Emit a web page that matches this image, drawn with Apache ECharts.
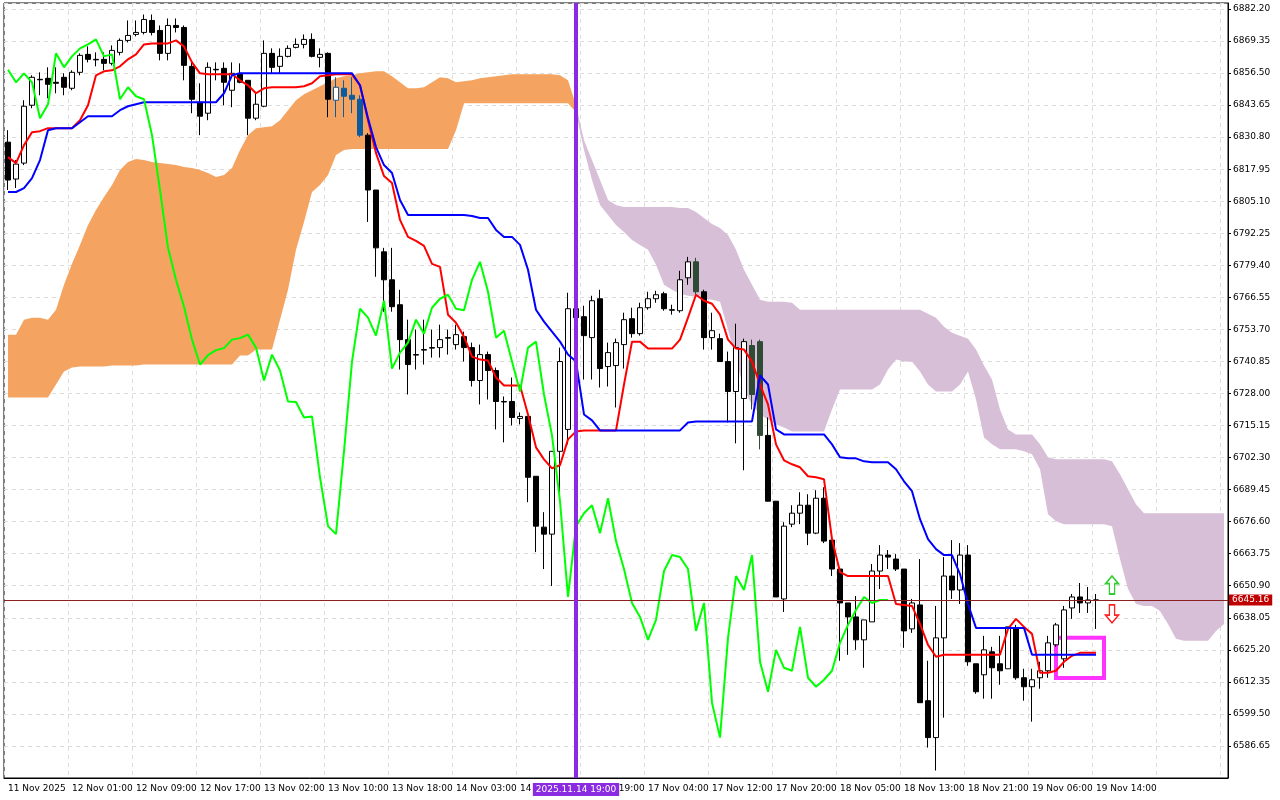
<!DOCTYPE html>
<html lang="en">
  <head>
    <meta charset="UTF-8" />
    <title>US500 H1 Ichimoku</title>
    <script src="https://cdn.jsdelivr.net/npm/echarts@6/dist/echarts.min.js"></script>
    <style>
      html, body { margin: 0; padding: 0; background: #fff; }
      #main { width: 1280px; height: 800px; }
    </style>
  </head>
  <body>
    <div id="main"></div>
    <script>
      // time labels, one every 8 bars
      const timeLabels = ['11 Nov 2025', '12 Nov 01:00', '12 Nov 09:00', '12 Nov 17:00', '13 Nov 02:00',
        '13 Nov 10:00', '13 Nov 18:00', '14 Nov 03:00', '14 Nov 11:00', '14 Nov 19:00', '17 Nov 04:00',
        '17 Nov 12:00', '17 Nov 20:00', '18 Nov 05:00', '18 Nov 13:00', '18 Nov 21:00', '19 Nov 06:00',
        '19 Nov 14:00'];

      // [open, close, low, high]
      const ohlc = [
        [6828.8, 6813.6, 6809.6, 6833.6], [6814.0, 6820.0, 6810.4, 6821.6], [6820.4, 6843.2, 6819.6, 6845.6],
        [6843.6, 6854.8, 6842.4, 6855.6], [6854.0, 6853.8, 6847.6, 6856.8], [6854.4, 6852.0, 6846.4, 6858.8],
        [6852.8, 6852.4, 6848.4, 6858.8], [6854.8, 6850.8, 6847.6, 6856.4], [6850.4, 6856.8, 6849.6, 6857.6],
        [6856.8, 6863.6, 6855.6, 6864.4], [6864.0, 6862.0, 6860.8, 6867.2], [6862.0, 6861.8, 6859.2, 6864.8],
        [6862.0, 6860.4, 6857.6, 6864.8], [6860.4, 6865.6, 6859.6, 6867.6], [6864.8, 6869.6, 6863.6, 6870.4],
        [6869.6, 6871.6, 6868.8, 6877.6], [6872.0, 6872.8, 6871.2, 6877.6], [6872.8, 6878.0, 6872.0, 6880.0],
        [6877.6, 6872.8, 6871.6, 6880.0], [6873.6, 6864.4, 6861.6, 6875.6], [6864.4, 6875.6, 6861.6, 6878.4],
        [6875.6, 6874.8, 6872.8, 6878.4], [6874.8, 6859.6, 6853.6, 6875.6], [6859.2, 6846.0, 6840.4, 6861.6],
        [6844.8, 6839.2, 6831.6, 6852.4], [6840.4, 6858.8, 6837.6, 6860.8], [6858.0, 6857.8, 6853.6, 6860.8],
        [6858.4, 6852.8, 6843.6, 6860.8], [6849.6, 6856.4, 6842.8, 6860.8], [6856.4, 6852.8, 6852.4, 6860.4],
        [6853.6, 6838.4, 6831.6, 6853.6], [6838.4, 6844.0, 6837.6, 6848.4], [6843.2, 6864.4, 6842.8, 6869.6],
        [6864.4, 6858.8, 6856.4, 6866.4], [6859.2, 6863.2, 6856.4, 6866.4], [6863.2, 6866.4, 6862.8, 6867.6],
        [6866.8, 6868.0, 6866.4, 6870.4], [6868.0, 6870.0, 6866.4, 6872.0], [6870.0, 6863.2, 6862.8, 6872.4],
        [6862.8, 6864.0, 6858.8, 6866.4], [6864.4, 6846.0, 6838.8, 6864.8], [6845.6, 6850.8, 6838.8, 6854.8],
        [6850.4, 6847.2, 6838.8, 6853.6], [6847.6, 6846.0, 6840.4, 6854.8], [6846.0, 6831.6, 6830.8, 6847.6],
        [6831.6, 6809.6, 6796.8, 6832.4], [6809.6, 6786.4, 6774.8, 6809.6], [6784.8, 6773.6, 6760.8, 6786.4],
        [6773.6, 6762.8, 6760.8, 6786.4], [6763.6, 6749.6, 6737.6, 6769.6], [6749.6, 6739.6, 6727.6, 6757.6],
        [6743.6, 6743.4, 6737.6, 6753.6], [6745.6, 6745.4, 6739.6, 6757.6], [6746.4, 6746.2, 6742.4, 6753.6],
        [6746.4, 6749.6, 6742.4, 6755.6], [6750.4, 6750.2, 6743.6, 6753.6], [6747.6, 6751.6, 6745.6, 6755.6],
        [6750.8, 6746.4, 6740.8, 6752.8], [6746.4, 6733.2, 6730.8, 6748.4], [6733.2, 6743.6, 6723.6, 6747.6],
        [6743.6, 6737.2, 6725.6, 6744.8], [6737.2, 6724.8, 6713.6, 6738.4], [6724.8, 6724.6, 6708.4, 6726.8],
        [6724.8, 6718.4, 6715.2, 6734.4], [6718.0, 6718.8, 6715.6, 6720.4], [6718.8, 6694.4, 6684.4, 6718.8],
        [6694.8, 6674.8, 6664.4, 6694.8], [6674.4, 6671.6, 6657.6, 6680.4], [6671.6, 6704.8, 6650.8, 6704.8],
        [6704.8, 6740.8, 6688.4, 6746.4], [6713.6, 6762.0, 6707.6, 6768.4], [6762.0, 6758.4, 6753.6, 6765.6],
        [6758.8, 6751.2, 6733.6, 6763.2], [6750.4, 6765.2, 6733.6, 6767.2], [6766.0, 6738.0, 6730.4, 6769.6],
        [6738.8, 6744.4, 6730.8, 6748.4], [6739.2, 6748.4, 6722.4, 6750.0], [6747.6, 6757.6, 6738.0, 6760.4],
        [6758.0, 6752.0, 6750.4, 6762.4], [6752.0, 6762.4, 6751.2, 6764.4], [6762.4, 6766.0, 6761.6, 6768.8],
        [6766.0, 6767.6, 6764.4, 6769.2], [6768.0, 6762.0, 6761.2, 6768.8], [6761.6, 6761.4, 6759.6, 6763.6],
        [6761.2, 6773.6, 6760.4, 6777.2], [6774.4, 6780.8, 6771.6, 6782.8], [6780.8, 6768.8, 6767.6, 6782.4],
        [6768.8, 6750.4, 6745.6, 6769.6], [6750.4, 6753.2, 6745.6, 6760.4], [6750.0, 6740.8, 6740.8, 6752.0],
        [6740.8, 6728.8, 6716.4, 6744.8], [6728.8, 6746.4, 6708.0, 6756.0], [6726.0, 6748.8, 6697.2, 6750.0],
        [6747.2, 6727.6, 6721.6, 6749.6], [6748.8, 6711.2, 6705.6, 6749.6], [6711.2, 6684.8, 6684.8, 6718.4],
        [6684.8, 6646.4, 6646.4, 6684.8], [6645.6, 6674.8, 6640.4, 6676.4], [6675.6, 6680.0, 6674.4, 6683.2],
        [6680.0, 6683.2, 6675.6, 6688.4], [6683.2, 6672.0, 6667.2, 6687.6], [6672.0, 6686.0, 6671.6, 6689.2],
        [6686.0, 6668.8, 6668.0, 6690.4], [6669.2, 6657.6, 6654.8, 6669.2], [6657.6, 6644.0, 6620.8, 6657.6],
        [6644.0, 6638.4, 6623.2, 6644.0], [6638.4, 6629.2, 6625.2, 6646.8], [6629.2, 6637.2, 6618.0, 6637.2],
        [6636.4, 6656.8, 6636.4, 6659.6], [6656.8, 6663.2, 6649.6, 6667.2], [6663.2, 6662.4, 6657.6, 6665.2],
        [6661.6, 6657.6, 6656.8, 6663.6], [6657.6, 6632.8, 6626.0, 6657.6], [6633.6, 6644.0, 6632.0, 6645.6],
        [6643.2, 6604.0, 6604.0, 6661.6], [6604.8, 6590.0, 6586.0, 6620.8], [6590.0, 6630.0, 6576.8, 6642.8],
        [6630.0, 6654.8, 6598.0, 6662.4], [6654.8, 6649.2, 6645.6, 6669.2], [6649.2, 6663.2, 6643.6, 6668.0],
        [6663.2, 6620.4, 6618.8, 6667.2], [6619.6, 6608.4, 6607.6, 6619.6], [6615.2, 6625.2, 6605.6, 6630.8],
        [6624.4, 6618.0, 6605.6, 6626.4], [6619.6, 6616.8, 6611.2, 6630.8], [6617.6, 6634.4, 6617.6, 6634.4],
        [6633.6, 6614.0, 6613.2, 6635.2], [6614.0, 6610.4, 6604.8, 6617.6], [6610.4, 6613.2, 6596.4, 6617.6],
        [6614.0, 6616.8, 6609.6, 6620.4], [6616.8, 6628.0, 6614.0, 6630.8], [6627.2, 6635.2, 6626.4, 6636.0],
        [6621.6, 6641.2, 6618.0, 6642.8], [6642.0, 6646.4, 6637.6, 6647.6], [6646.4, 6644.0, 6640.0, 6652.0],
        [6644.0, 6645.2, 6640.0, 6650.4], [6645.2, 6645.16, 6633.6, 6647.6]
      ];

      const tenkan = [
        6822.8, 6820.4, 6827.6, 6832.8, 6833.2, 6834.4, 6834.4, 6834.4, 6834.4, 6837.6,
        6843.6, 6855.6, 6857.2, 6857.6, 6859.2, 6862.0, 6864.0, 6868.0, 6868.4, 6868.4,
        6868.4, 6869.6, 6867.2, 6860.8, 6856.4, 6856.0, 6856.0, 6856.0, 6856.0, 6853.6,
        6851.6, 6848.4, 6850.4, 6850.8, 6850.8, 6850.8, 6850.8, 6851.2, 6852.4, 6855.2,
        6855.6, 6856.0, 6856.0, 6856.0, 6851.6, 6837.6, 6824.4, 6815.2, 6812.4, 6797.6,
        6790.8, 6789.2, 6787.2, 6780.0, 6778.8, 6759.6, 6756.4, 6750.8, 6742.8, 6741.6,
        6741.2, 6734.4, 6731.2, 6731.2, 6731.2, 6719.6, 6706.4, 6701.6, 6698.0, 6699.2,
        6709.6, 6712.8, 6713.2, 6713.2, 6713.2, 6713.2, 6713.2, 6731.6, 6748.8, 6748.8,
        6746.0, 6746.0, 6746.0, 6746.0, 6749.6, 6758.4, 6767.6, 6765.2, 6764.0, 6759.6,
        6749.6, 6746.0, 6745.6, 6740.8, 6731.6, 6723.6, 6707.6, 6701.2, 6699.6, 6698.4,
        6694.8, 6694.4, 6693.6, 6669.6, 6656.4, 6654.8, 6654.8, 6654.8, 6654.8, 6654.8,
        6654.8, 6643.6, 6643.2, 6642.8, 6635.6, 6627.2, 6622.4, 6623.2, 6623.2, 6623.2,
        6623.2, 6623.2, 6623.2, 6623.2, 6623.2, 6633.6, 6637.6, 6634.4, 6631.6, 6616.0,
        6616.0, 6616.8, 6620.4, 6622.8, 6624.0, 6624.0, 6624.0
      ];

      const kijun = [
        6808.8, 6808.8, 6810.4, 6814.4, 6821.6, 6833.6, 6834.4, 6834.4, 6834.4, 6836.8,
        6839.2, 6839.2, 6839.2, 6839.2, 6841.6, 6843.2, 6844.0, 6844.8, 6844.8, 6844.8,
        6844.8, 6844.8, 6844.8, 6844.8, 6844.8, 6844.8, 6844.8, 6848.4, 6855.6, 6856.4,
        6856.4, 6856.4, 6856.4, 6856.4, 6856.4, 6856.4, 6856.4, 6856.4, 6856.4, 6856.4,
        6856.4, 6856.4, 6856.4, 6856.4, 6851.6, 6838.4, 6826.8, 6819.6, 6816.4, 6805.6,
        6799.6, 6799.6, 6799.6, 6799.6, 6799.6, 6799.6, 6799.6, 6799.6, 6799.2, 6798.4,
        6798.4, 6793.6, 6790.8, 6790.8, 6787.6, 6777.6, 6761.6, 6756.8, 6752.8, 6748.8,
        6743.6, 6740.8, 6719.6, 6717.2, 6713.2, 6713.2, 6713.2, 6713.2, 6713.2, 6713.2,
        6713.2, 6713.2, 6713.2, 6713.2, 6713.2, 6716.4, 6716.8, 6716.8, 6716.8, 6716.8,
        6716.8, 6716.8, 6716.8, 6716.8, 6735.2, 6731.6, 6713.6, 6711.6, 6711.6, 6711.6,
        6711.6, 6711.6, 6711.6, 6707.6, 6702.4, 6702.0, 6702.0, 6700.8, 6700.4, 6700.4,
        6700.4, 6697.6, 6692.8, 6688.8, 6677.6, 6669.6, 6665.6, 6663.2, 6663.2, 6655.6,
        6643.6, 6634.0, 6634.0, 6634.0, 6634.0, 6634.0, 6634.0, 6634.0, 6623.2, 6623.2,
        6623.2, 6623.2, 6623.2, 6623.2, 6623.2, 6623.2, 6623.2
      ];

      // cloud edges, bars 0..71 (orange) and 71..152 (purple)
      const orangeTop = [
        6751.6, 6751.6, 6757.6, 6758.4, 6758.4, 6757.6, 6761.6, 6771.6, 6780.0, 6787.6,
        6795.6, 6801.6, 6806.8, 6811.6, 6817.6, 6820.8, 6822.0, 6821.6, 6820.8, 6820.4,
        6820.0, 6819.6, 6818.8, 6818.4, 6817.6, 6816.4, 6814.8, 6815.6, 6818.4, 6825.6,
        6831.6, 6834.4, 6834.8, 6835.2, 6837.6, 6841.6, 6845.6, 6848.0, 6849.6, 6851.2,
        6852.8, 6854.4, 6855.2, 6855.6, 6856.4, 6856.8, 6857.2, 6857.2, 6855.2, 6852.8,
        6850.4, 6850.4, 6850.8, 6852.8, 6854.8, 6854.4, 6852.8, 6853.2, 6853.6, 6854.4,
        6854.8, 6855.2, 6855.6, 6856.0, 6856.0, 6856.0, 6856.0, 6856.0, 6856.0, 6855.6,
        6853.6, 6843.6
      ];
      const orangeBottom = [
        6726.4, 6726.4, 6726.4, 6726.4, 6726.4, 6726.4, 6731.6, 6736.8, 6738.4, 6738.8,
        6738.8, 6738.8, 6738.8, 6739.2, 6739.2, 6739.2, 6739.2, 6739.6, 6739.6, 6739.6,
        6739.6, 6739.6, 6739.6, 6739.6, 6739.6, 6739.6, 6739.6, 6739.6, 6739.6, 6743.2,
        6743.2, 6745.6, 6745.6, 6745.6, 6757.6, 6769.6, 6785.6, 6796.8, 6808.8, 6811.6,
        6815.6, 6823.6, 6825.6, 6826.0, 6826.0, 6826.0, 6826.0, 6826.0, 6826.0, 6826.0,
        6826.0, 6826.0, 6826.0, 6826.0, 6826.0, 6826.0, 6833.6, 6844.4, 6844.4, 6844.4,
        6844.4, 6844.4, 6844.4, 6844.4, 6844.4, 6844.4, 6844.4, 6844.4, 6844.4, 6844.4,
        6844.4, 6840.8
      ];
      const purpleTop = [
        6843.6, 6829.6, 6821.6, 6813.6, 6805.6, 6803.6, 6802.8, 6802.8, 6802.8, 6802.8,
        6802.8, 6802.8, 6802.8, 6802.4, 6802.4, 6800.8, 6798.4, 6796.0, 6794.4, 6791.6,
        6785.6, 6777.6, 6771.6, 6765.6, 6764.8, 6764.8, 6764.8, 6764.4, 6761.6, 6761.6,
        6761.6, 6761.6, 6761.6, 6761.6, 6761.6, 6761.6, 6761.6, 6761.6, 6761.6, 6761.6,
        6761.6, 6761.6, 6761.6, 6761.6, 6760.0, 6758.4, 6754.8, 6752.4, 6751.2, 6750.0,
        6745.6, 6739.2, 6733.6, 6721.6, 6713.6, 6711.6, 6711.6, 6711.6, 6707.6, 6702.4,
        6701.6, 6701.6, 6701.6, 6701.6, 6701.6, 6701.6, 6701.6, 6700.8, 6695.6, 6689.6,
        6683.6, 6680.0, 6680.0, 6680.0, 6680.0, 6680.0, 6680.0, 6680.0, 6680.0, 6680.0,
        6680.0, 6680.0
      ];
      const purpleBottom = [
        6840.8, 6825.6, 6813.6, 6803.6, 6799.6, 6795.6, 6792.8, 6789.6, 6787.6, 6785.6,
        6779.6, 6771.6, 6769.6, 6768.0, 6767.2, 6766.8, 6766.0, 6765.6, 6764.8, 6753.6,
        6741.6, 6729.6, 6723.6, 6719.6, 6717.6, 6715.6, 6714.4, 6712.8, 6712.8, 6712.8,
        6712.8, 6712.8, 6721.6, 6729.6, 6729.6, 6729.6, 6729.6, 6729.6, 6731.6, 6737.6,
        6741.6, 6740.8, 6740.8, 6736.8, 6731.6, 6728.8, 6728.8, 6728.8, 6731.6, 6736.8,
        6725.6, 6710.4, 6707.6, 6705.6, 6705.6, 6705.6, 6704.8, 6703.6, 6697.6, 6679.6,
        6676.8, 6675.6, 6675.6, 6675.6, 6675.6, 6675.6, 6675.6, 6674.8, 6661.6, 6649.6,
        6643.6, 6642.8, 6642.8, 6640.8, 6635.6, 6629.6, 6628.8, 6628.8, 6628.8, 6628.8,
        6632.8, 6635.6
      ];

      const lastPrice = 6645.16;
      const totalBars = 153;
      const shift = 26;
      const purpleStart = 71;
      // candles drawn through the cloud (MT xor colours)
      const orangeCloudBars = [41, 42, 43, 44];
      const purpleCloudBars = [86, 93, 94];

      const categories = [];
      for (let i = 0; i < totalBars; i++) categories.push(String(i));

      const candleData = ohlc.map(function (d, i) {
        if (orangeCloudBars.indexOf(i) >= 0) {
          return { value: d, itemStyle: { color0: '#0b5b9f', borderColor0: '#0b5b9f', borderColor: '#0b5b9f' } };
        }
        if (purpleCloudBars.indexOf(i) >= 0) {
          return { value: d, itemStyle: { color0: '#2f4a35', borderColor0: '#2f4a35' } };
        }
        return d;
      });

      const closes = ohlc.map(function (d) { return d[1]; });
      const chikou = closes.slice(shift);

      function pad(arr, start) {
        const out = [];
        for (let i = 0; i < totalBars; i++) {
          const k = i - start;
          out.push(k >= 0 && k < arr.length ? arr[k] : '-');
        }
        return out;
      }
      function diff(top, bot) {
        return top.map(function (v, i) { return +(v - bot[i]).toFixed(2); });
      }

      const cloudLine = { width: 0, opacity: 0 };

      const option = {
        animation: false,
        backgroundColor: '#ffffff',
        textStyle: { fontFamily: 'DejaVu Sans' },
        grid: { left: 4, right: 52, top: 3, bottom: 22, show: true, borderColor: '#000', borderWidth: 1 },
        xAxis: {
          type: 'category',
          data: categories,
          boundaryGap: true,
          axisLine: { lineStyle: { color: '#000' } },
          axisTick: { interval: function (i) { return i % 8 === 0; }, lineStyle: { color: '#000' }, length: 3 },
          axisLabel: {
            interval: 0,
            fontSize: 9,
            color: '#000',
            align: 'left',
            margin: 6,
            formatter: function (v, i) { return i % 8 === 0 ? timeLabels[i / 8] || '' : ''; },
          },
          splitLine: {
            show: true,
            interval: function (i) { return i % 8 === 0; },
            lineStyle: { color: '#dcdcdc', type: [4, 4] },
          },
        },
        yAxis: {
          type: 'value',
          position: 'right',
          min: 6573.8,
          max: 6884.6,
          interval: 12.85,
          axisLine: { show: true, lineStyle: { color: '#000' } },
          axisTick: { show: true, length: 3, lineStyle: { color: '#000' } },
          axisLabel: {
            fontSize: 9,
            color: '#000',
            margin: 5,
            showMinLabel: false,
            showMaxLabel: false,
            formatter: function (v) { return v.toFixed(2); },
          },
          splitLine: { lineStyle: { color: '#dcdcdc', type: [4, 4] } },
        },
        series: [
          { type: 'line', stack: 'orange', data: pad(orangeBottom, 0), symbol: 'none', lineStyle: cloudLine, z: 1, silent: true },
          { type: 'line', stack: 'orange', data: pad(diff(orangeTop, orangeBottom), 0), symbol: 'none', lineStyle: cloudLine,
            areaStyle: { color: '#f4a460', opacity: 1 }, z: 1, silent: true },
          { type: 'line', stack: 'purple', data: pad(purpleBottom, purpleStart), symbol: 'none', lineStyle: cloudLine, z: 1, silent: true },
          { type: 'line', stack: 'purple', data: pad(diff(purpleTop, purpleBottom), purpleStart), symbol: 'none', lineStyle: cloudLine,
            areaStyle: { color: '#d8bfd8', opacity: 1 }, z: 1, silent: true },
          {
            type: 'candlestick',
            data: candleData,
            barWidth: 5,
            z: 3,
            itemStyle: { color: '#ffffff', color0: '#000000', borderColor: '#000000', borderColor0: '#000000', borderWidth: 1 },
            markLine: {
              silent: true,
              symbol: 'none',
              animation: false,
              data: [
                {
                  yAxis: lastPrice,
                  lineStyle: { color: '#8b2020', width: 1, type: 'solid' },
                  label: {
                    position: 'end', formatter: lastPrice.toFixed(2), color: '#fff', backgroundColor: '#c00000',
                    fontSize: 9, padding: [1, 3], distance: 1,
                  },
                },
                {
                  xAxis: '71',
                  lineStyle: { color: '#8a2be2', width: 4, type: 'solid' },
                  label: {
                    position: 'start', formatter: '2025.11.14 19:00', color: '#fff', backgroundColor: '#8a2be2',
                    fontSize: 9, padding: [2, 3], distance: 5,
                  },
                },
              ],
            },
            markArea: {
              silent: true,
              data: [[
                { coord: ['131', 6630.0], itemStyle: { color: 'rgba(0,0,0,0)', borderColor: '#ff33ff', borderWidth: 4 } },
                { coord: ['137', 6613.9] },
              ]],
            },
            markPoint: {
              silent: true,
              data: [
                { coord: ['138', 6651.2], symbol: 'path://M5,0 L10,6 L7,6 L7,14 L3,14 L3,6 L0,6 Z', symbolSize: [13, 18],
                  itemStyle: { color: '#fff', borderColor: '#33cc33', borderWidth: 1.5 }, label: { show: false } },
                { coord: ['138', 6639.6], symbol: 'path://M5,0 L10,6 L7,6 L7,14 L3,14 L3,6 L0,6 Z', symbolSize: [13, 18],
                  symbolRotate: 180, itemStyle: { color: '#fff', borderColor: '#ff2020', borderWidth: 1.5 }, label: { show: false } },
              ],
            },
          },
          { type: 'line', data: pad(tenkan, 0), symbol: 'none', lineStyle: { color: '#ff0000', width: 2 }, z: 4, silent: true },
          { type: 'line', data: pad(kijun, 0), symbol: 'none', lineStyle: { color: '#0000ff', width: 2 }, z: 4, silent: true },
          { type: 'line', data: pad(chikou, 0), symbol: 'none', lineStyle: { color: '#00ff00', width: 2 }, z: 4, silent: true },
        ],
      };

      var myChart = echarts.init(document.getElementById('main'));
      myChart.setOption(option);
    </script>
  </body>
</html>
